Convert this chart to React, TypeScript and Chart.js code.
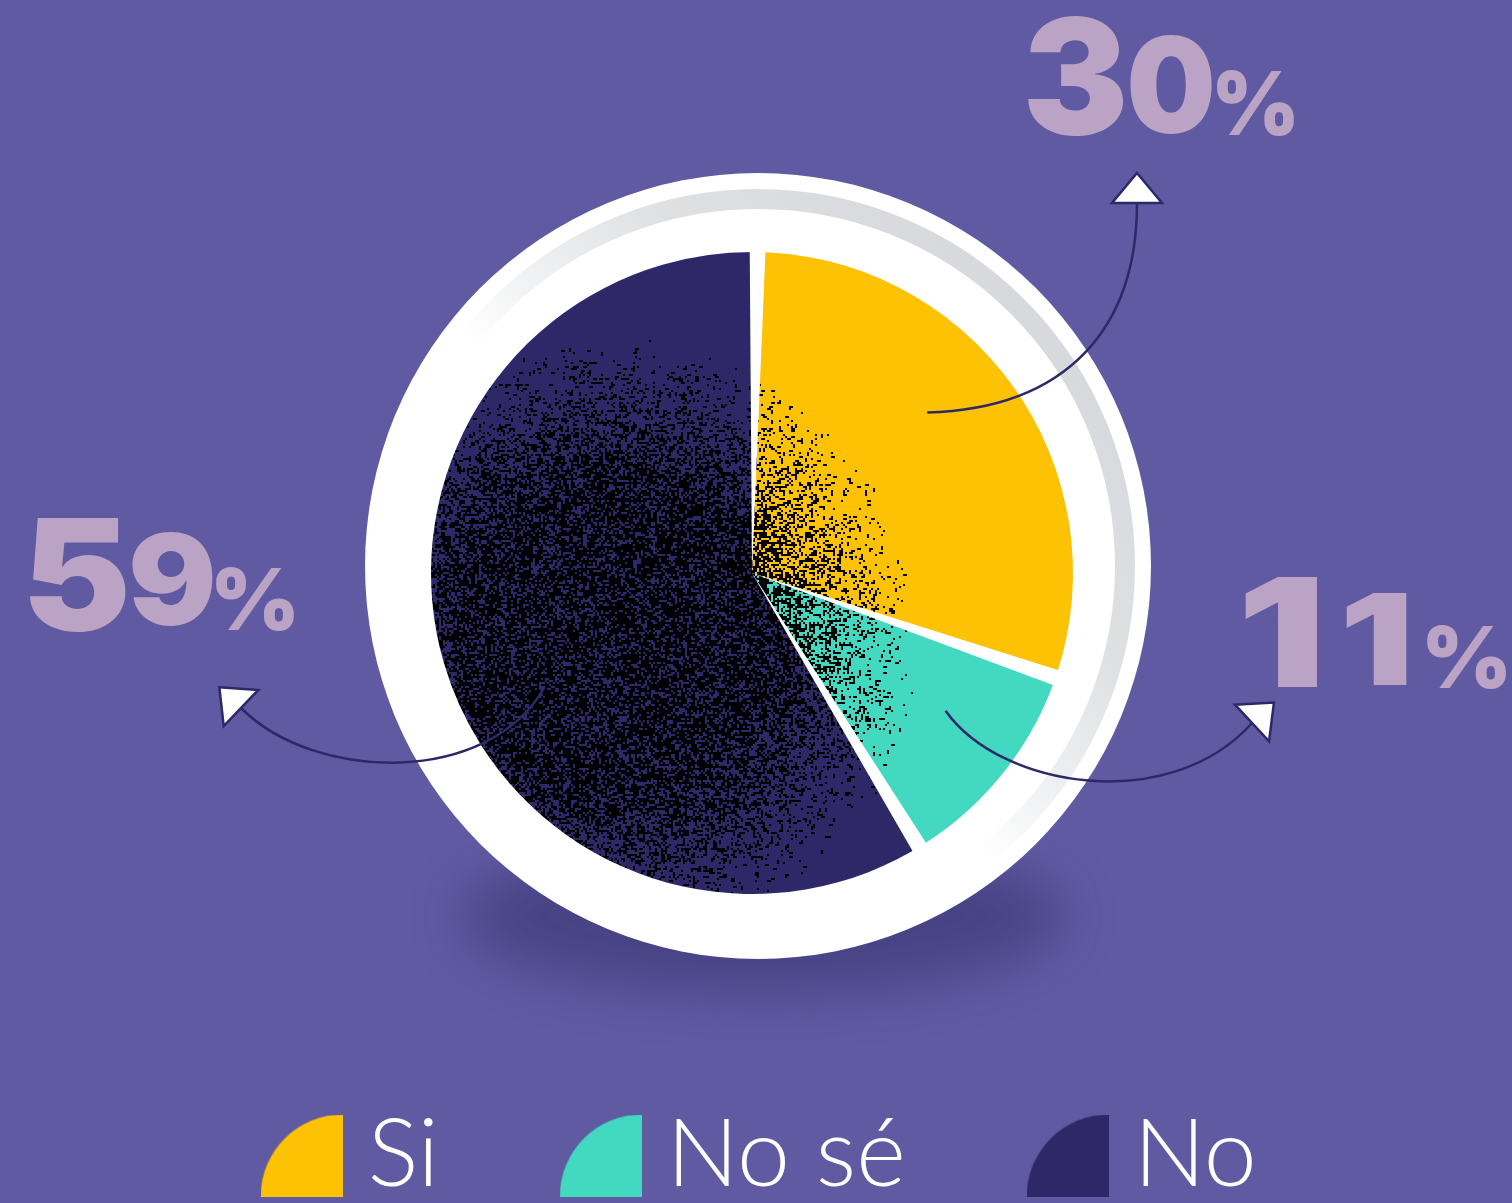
import React, { useEffect, useRef } from "react";
import { Chart, registerables } from "chart.js";

Chart.register(...registerables);

// ---------------- data ----------------
const CATEGORIES = ["Si", "No sé", "No"];
const VALUES = [30, 11, 59];
const SLICE_COLORS = ["#FCC203", "#43D9C0", "#2E2869"];

// ---------------- layout / style ----------------
const W = 1512;
const H = 1213;
const BG = "#5F5AA2";
const LABEL_COLOR = "#BAA3C4";
const ARROW_COLOR = "#2E2869";
const PIE_R = 321;
const PIE_CY = 573;
const PAD_RIGHT = 8;
const LEGEND_FONT = 95;
const ICON = 82;
const PW = 37;
const ICON_SPREAD = 766; // distance first->last legend icon centre
const LEGEND_SHIFT = 18;
const RING_OFF = [6, -7];
const RING_R = 393;
const GRAY_R = 367;
const GRAY_W = 20;
const GAP_BEFORE_DEG = 0.4;
const GAP_AFTER_DEG = 2.4;
const BIG_FONT = '900 200px Inter, Roboto, Lato, sans-serif';

// glyph ink boxes of the big percentage labels, relative to pie centre: [x, top, w, h]
const GLYPH_BOXES = [
  [[276, -556, 95, 119], [378, -538, 82, 99], [465, -503, 77, 66]],
  [[493, 4, 73, 110], [594, 20, 61, 92], [675, 52, 79, 64]],
  [[-722, -55, 96, 114], [-620, -41, 81, 94], [-536, -6, 78, 64]],
];
// arrows: base midpoint of the head (rel. centre), head direction, bezier handles
const ARROWS = [
  { base: [385, -370], dir: [0, -1], h0: [140, -4], h3: [0, 125] },
  { base: [500, 150], dir: [0.73, -0.68], h0: [55, 78], h3: [-82, 92] },
  { base: [-511, 135], dir: [-0.72, -0.69], h0: [-55, 97], h3: [75, 75] },
];
const ARROW_START_FRAC = 0.44;
const ARROW_START_R = 0.74;

// ---------------- helpers ----------------
function noiseDensity(d: number) {
  if (d < 0.5) return 0.6;
  if (d > 0.95) return 0;
  const t = (0.95 - d) / 0.45;
  return 0.6 * Math.pow(t, 1.4);
}

const patternCache: Record<string, any> = {};
function slicePattern(chart: any, base: string) {
  const area = chart.chartArea;
  if (!area) return base;
  const cx = (area.left + area.right) / 2;
  const cy = (area.top + area.bottom) / 2;
  const key = base + "|" + cx + "|" + cy;
  if (patternCache[key]) return patternCache[key];
  const cv = document.createElement("canvas");
  cv.width = chart.width;
  cv.height = chart.height;
  const g = cv.getContext("2d") as CanvasRenderingContext2D;
  g.fillStyle = base;
  g.fillRect(0, 0, cv.width, cv.height);
  g.fillStyle = "#000";
  const R = PIE_R;
  const fx = cx - 0.42 * R;
  const fy = cy + 0.2 * R;
  let seed = 987654321;
  const rnd = () => {
    seed = (Math.imul(seed, 1664525) + 1013904223) >>> 0;
    return seed / 4294967296;
  };
  const cell = 2;
  for (let y = Math.floor(cy - R - 4); y < cy + R + 4; y += cell) {
    for (let x = Math.floor(cx - R - 4); x < cx + R + 4; x += cell) {
      const d = Math.hypot(x - fx, y - fy) / R;
      const r = rnd();
      const r2 = rnd();
      if (r < noiseDensity(d)) {
        if (r2 < 0.25) g.fillRect(x, y, cell * 2, cell);
        else if (r2 < 0.4) g.fillRect(x, y, cell, cell * 2);
        else g.fillRect(x, y, cell, cell);
      }
    }
  }
  const pat = chart.ctx.createPattern(cv, "no-repeat");
  patternCache[key] = pat;
  return pat;
}

function makeIcon(color: string) {
  const cv = document.createElement("canvas");
  cv.width = ICON;
  cv.height = ICON;
  const g = cv.getContext("2d") as CanvasRenderingContext2D;
  g.fillStyle = color;
  g.beginPath();
  g.moveTo(ICON, ICON);
  g.lineTo(0, ICON);
  g.arc(ICON, ICON, ICON, Math.PI, 1.5 * Math.PI);
  g.closePath();
  g.fill();
  return cv;
}

function drawGlyphs(ctx: CanvasRenderingContext2D, text: string, boxes: number[][], cx: number, cy: number) {
  const chars = text.split("");
  chars.forEach((ch, k) => {
    const b = boxes[k];
    if (!b) return;
    ctx.save();
    ctx.font = BIG_FONT;
    ctx.textAlign = "left";
    ctx.textBaseline = "alphabetic";
    const m = ctx.measureText(ch);
    const left = m.actualBoundingBoxLeft;
    const right = m.actualBoundingBoxRight;
    const asc = m.actualBoundingBoxAscent;
    const desc = m.actualBoundingBoxDescent;
    const sx = b[2] / (left + right);
    const sy = b[3] / (asc + desc);
    ctx.translate(cx + b[0], cy + b[1]);
    ctx.scale(sx, sy);
    ctx.fillStyle = LABEL_COLOR;
    ctx.fillText(ch, left, asc);
    ctx.restore();
  });
}

const decorPlugin = {
  id: "decor",
  afterLayout(chart: any) {
    const lg = chart.legend;
    if (lg) {
      lg.left += LEGEND_SHIFT;
      lg.right += LEGEND_SHIFT;
    }
  },
  beforeDraw(chart: any) {
    const { ctx } = chart;
    ctx.save();
    ctx.fillStyle = BG;
    ctx.fillRect(0, 0, chart.width, chart.height);
    ctx.restore();
  },
  beforeDatasetsDraw(chart: any) {
    const { ctx } = chart;
    const arc = chart.getDatasetMeta(0).data[0];
    if (!arc) return;
    const cx = arc.x;
    const cy = arc.y;
    const ox = cx + RING_OFF[0];
    const oy = cy + RING_OFF[1];
    // soft shadow below the disc
    ctx.save();
    ctx.filter = "blur(26px)";
    ctx.fillStyle = "rgba(38,32,88,0.4)";
    ctx.beginPath();
    ctx.ellipse(ox + 5, oy + 350, 300, 75, 0, 0, Math.PI * 2);
    ctx.fill();
    ctx.restore();
    // white disc
    ctx.save();
    ctx.fillStyle = "#FFFFFF";
    ctx.beginPath();
    ctx.arc(ox, oy, RING_R, 0, Math.PI * 2);
    ctx.fill();
    // gray inner ring, fading from top-right to bottom-left
    const dx = Math.SQRT1_2 * GRAY_R;
    const grad = ctx.createLinearGradient(ox + dx, oy - dx, ox - dx, oy + dx);
    grad.addColorStop(0, "#D8D9DC");
    grad.addColorStop(0.25, "#DFE0E2");
    grad.addColorStop(0.45, "#F1F2F3");
    grad.addColorStop(0.56, "#FFFFFF");
    grad.addColorStop(1, "#FFFFFF");
    ctx.strokeStyle = grad;
    ctx.lineWidth = GRAY_W;
    ctx.beginPath();
    ctx.arc(ox, oy, GRAY_R, 0, Math.PI * 2);
    ctx.stroke();
    ctx.restore();
  },
  afterDatasetsDraw(chart: any) {
    const { ctx } = chart;
    const meta = chart.getDatasetMeta(0);
    const arcs = meta.data;
    if (!arcs.length) return;
    const cx = arcs[0].x;
    const cy = arcs[0].y;
    const R = arcs[0].outerRadius;
    // angular white gaps between slices
    const gb = (GAP_BEFORE_DEG * Math.PI) / 180;
    const ga = (GAP_AFTER_DEG * Math.PI) / 180;
    ctx.save();
    ctx.fillStyle = "#FFFFFF";
    arcs.forEach((a: any) => {
      ctx.beginPath();
      ctx.moveTo(cx, cy);
      ctx.arc(cx, cy, R + 3, a.startAngle - gb, a.startAngle + ga);
      ctx.closePath();
      ctx.fill();
    });
    ctx.restore();

    // arrows
    ctx.save();
    ctx.strokeStyle = ARROW_COLOR;
    ctx.lineWidth = 2.5;
    arcs.forEach((a: any, i: number) => {
      const cfg = ARROWS[i];
      const ang = a.startAngle + ARROW_START_FRAC * (a.endAngle - a.startAngle);
      const p0 = [cx + Math.cos(ang) * R * ARROW_START_R, cy + Math.sin(ang) * R * ARROW_START_R];
      const p3 = [cx + cfg.base[0], cy + cfg.base[1]];
      ctx.beginPath();
      ctx.moveTo(p0[0], p0[1]);
      ctx.bezierCurveTo(p0[0] + cfg.h0[0], p0[1] + cfg.h0[1], p3[0] + cfg.h3[0], p3[1] + cfg.h3[1], p3[0], p3[1]);
      ctx.stroke();
      const d = cfg.dir;
      const len = Math.hypot(d[0], d[1]);
      const ux = d[0] / len;
      const uy = d[1] / len;
      const tip = [p3[0] + ux * 30, p3[1] + uy * 30];
      const px = -uy * 25;
      const py = ux * 25;
      ctx.beginPath();
      ctx.moveTo(tip[0], tip[1]);
      ctx.lineTo(p3[0] + px, p3[1] + py);
      ctx.lineTo(p3[0] - px, p3[1] - py);
      ctx.closePath();
      ctx.fillStyle = "#FFFFFF";
      ctx.fill();
      ctx.lineJoin = "miter";
      ctx.stroke();
    });
    ctx.restore();

    // big percentage labels
    VALUES.forEach((v, i) => {
      drawGlyphs(ctx, `${v}%`, GLYPH_BOXES[i], cx, cy);
    });
  },
};

export default function App() {
  const ref = useRef<HTMLCanvasElement | null>(null);

  useEffect(() => {
    let chart: any = null;
    let dead = false;
    const run = async () => {
      try {
        await Promise.all([
          (document as any).fonts.load("300 95px Lato"),
          (document as any).fonts.load("900 200px Inter"),
        ]);
      } catch (e) {
        /* ignore */
      }
      if (dead || !ref.current) return;

      const m = document.createElement("canvas").getContext("2d") as CanvasRenderingContext2D;
      m.font = `300 ${LEGEND_FONT}px Lato`;
      const w1 = m.measureText(CATEGORIES[0]).width;
      const w2 = m.measureText(CATEGORIES[1]).width;
      const half = LEGEND_FONT / 2;
      const pad = Math.max(10, (ICON_SPREAD - 2 * (PW + half) - w1 - w2) / 2);
      const legendH = LEGEND_FONT + pad + 10;
      const top = 2 * PIE_CY - H + legendH;

      const icons = SLICE_COLORS.map((c) => makeIcon(c));
      const baseGen = (Chart as any).overrides.doughnut.plugins.legend.labels.generateLabels;

      chart = new Chart(ref.current, {
        type: "pie",
        data: {
          labels: CATEGORIES,
          datasets: [
            {
              data: VALUES,
              backgroundColor: (c: any) => slicePattern(c.chart, SLICE_COLORS[c.dataIndex] || SLICE_COLORS[0]),
              borderWidth: 0,
              radius: PIE_R,
            } as any,
          ],
        },
        options: {
          responsive: false,
          maintainAspectRatio: false,
          animation: false,
          events: [],
          rotation: 0,
          layout: { padding: { top, left: 0, right: PAD_RIGHT, bottom: 0 } },
          plugins: {
            tooltip: { enabled: false },
            title: { display: false },
            legend: {
              display: true,
              position: "bottom",
              align: "center",
              labels: {
                usePointStyle: true,
                pointStyleWidth: PW,
                padding: pad,
                color: "#FFFFFF",
                font: { family: "Lato", size: LEGEND_FONT, weight: "300" as any },
                generateLabels: (ch: any) => {
                  const items = baseGen(ch);
                  items.forEach((it: any, i: number) => {
                    it.pointStyle = icons[i];
                  });
                  return items;
                },
              },
            },
          },
        } as any,
        plugins: [decorPlugin],
      });
    };
    run();
    return () => {
      dead = true;
      if (chart) chart.destroy();
    };
  }, []);

  return (
    <div
      style={{
        position: "fixed",
        left: 0,
        top: 0,
        width: W,
        height: H,
        background: BG,
        overflow: "hidden",
      }}
    >
      <canvas ref={ref} width={W} height={H} style={{ display: "block", width: W, height: H }} />
    </div>
  );
}
